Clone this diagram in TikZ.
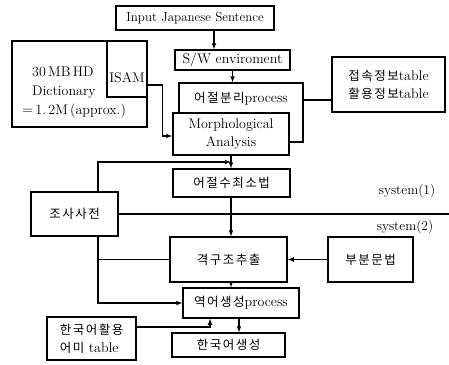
\documentclass[tikz,border=0pt]{standalone}
\usepackage{fontspec}
\newfontfamily\krfont[LetterSpace=12]{Noto Sans CJK KR}
\newcommand{\hgl}[1]{{\krfont\fontsize{12.5}{14}\selectfont #1}}
\usetikzlibrary{arrows, positioning, calc}

\tikzset{
  blk/.style={draw, line width=1.3pt, inner sep=2pt, fill=white, align=center,
    font=\fontsize{14}{18}\selectfont},
  arr/.style={-latex, line width=1.1pt},
  ln/.style={line width=1.1pt},
  lbl/.style={inner sep=0pt, font=\fontsize{13.5}{15}\selectfont}
}

\begin{document}
\begin{tikzpicture}[x=1pt,y=-1pt]
	\useasboundingbox (0,0) rectangle (449,364);
	\draw (195,18) node[blk, minimum width=158pt, minimum height=24pt, font=\fontsize{13}{15}\selectfont] (inp) {Input Japanese Sentence}
	(232.5,60) node[blk, minimum width=115pt, minimum height=20pt] (sw) {S/W enviroment}
	(241,112.5) node[blk, minimum width=124pt, minimum height=59pt, text height=10pt, text depth=31pt] (sep) {\hgl{어절분리}process}
	(231,134) node[blk, minimum width=116pt, minimum height=42pt] (morph) {Morphological\\Analysis}
	(388.5,84.5) node[blk, minimum width=113pt, minimum height=55pt] (tab) {\hgl{접속정보}table\\\hgl{활용정보}table}
	(79.5,84) node[blk, minimum width=135pt, minimum height=86pt] (dict) {}
	(127,69) node[blk, minimum width=40pt, minimum height=56pt, text height=26pt, text depth=0pt, inner sep=0pt] (isam) {ISAM}
	(74.5,214) node[blk, minimum width=87pt, minimum height=44pt] (josa) {\hgl{조사사전}}
	(231.5,183) node[blk, minimum width=117pt, minimum height=28pt] (min) {\hgl{어절수최소법}}
	(228.5,259.5) node[blk, minimum width=117pt, minimum height=45pt] (case) {\hgl{격구조추출}}
	(370.5,259.5) node[blk, minimum width=85pt, minimum height=45pt] (part) {\hgl{부분문법}}
	(241,303) node[blk, minimum width=116pt, minimum height=30pt] (gen) {\hgl{역어생성}process}
	(91.5,338.5) node[blk, minimum width=89pt, minimum height=43pt, align=left] (hit) {\hgl{한국어활용}\\\hgl{어미} table}
	(228.5,345) node[blk, minimum width=113pt, minimum height=24pt] (kor) {\hgl{한국어생성}};

	% text of the dictionary box
	\node[lbl, align=left, font=\fontsize{14}{19}\selectfont] (dtxt) at (74,92)
		{\hspace*{10pt}30\,MB\,HD\\\hspace*{10pt}Dictionary\\$=$\,1.\,2M\,(approx.)};
	\node[lbl] (sys1) at (407,191) {system(1)};
	\node[lbl] (sys2) at (405,227) {system(2)};

	\coordinate (jt) at ([xshift=23.5pt]josa.north);
	\coordinate (jb) at ([xshift=23.5pt]josa.south);
	\coordinate (edge) at (449,214);

	\draw[arr] ([xshift=19pt]inp.south) -- ([xshift=-18.5pt]sw.north);
	\draw[arr] (sw.south) -- (sw.south |- sep.north);
	\draw[ln] ([yshift=12.5pt]sep.east) -- ([yshift=-15.5pt]tab.west);
	\draw[arr] ([yshift=-16pt]isam.east) -- ++(15,0) |- ([yshift=-2pt]morph.west);
	\draw[arr] (morph.south) -- (morph.south |- min.north);
	\draw[arr] (jt) |- ($(morph.south)!0.5!(min.north -| morph.south)$);
	\draw[arr] (min.south -| morph.south) -- (morph.south |- case.north);
	\draw[ln] (josa.east) -- (edge);
	\draw[ln] (jb |- case.west) -- (case.west);
	\draw[arr] (part.west) -- (case.east);
	\draw[arr] (jb) |- (gen.west);
	\draw[arr] (case.south -| morph.south) -- (morph.south |- gen.north);
	\draw[arr] ([yshift=11.5pt]hit.east) -| ([xshift=-31pt]gen.south);
	\draw[arr] ([xshift=-2pt]gen.south) -- ([xshift=10.5pt]kor.north);
\end{tikzpicture}
\end{document}
